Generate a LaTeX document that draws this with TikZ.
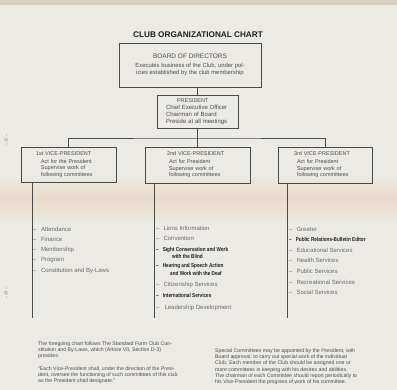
\documentclass[tikz,border=0pt]{standalone}
\usepackage{fontspec}
\setmainfont{Liberation Sans}
\newfontfamily\narrowfont{Liberation Sans}[FakeStretch=0.82]
\definecolor{paper}{HTML}{EBEAE5}
\definecolor{band}{HTML}{E8DBC9}
\definecolor{edge}{HTML}{D8D0C2}
\definecolor{linegray}{HTML}{4A4A4A}
\definecolor{boxtext}{HTML}{4C4C4C}
\definecolor{itemgray}{HTML}{6A6A6A}
\definecolor{itemdark}{HTML}{1E1E1E}
\tikzset{
  chartbox/.style={draw=linegray, line width=0.6pt, align=left, inner ysep=0pt,
    text=boxtext, font=\fontsize{5.5}{6.6}\selectfont},
  item/.style={anchor=west, inner sep=0pt, align=left, text=itemgray,
    font=\fontsize{6}{7.2}\selectfont},
  keyitem/.style={item, text=itemdark, font=\narrowfont\bfseries\fontsize{5.7}{7.2}\selectfont},
  note/.style={anchor=north west, inner sep=0pt, align=left, text=boxtext,
    font=\fontsize{5.2}{6.2}\selectfont},
  link/.style={draw=linegray, line width=0.6pt},
  pageno/.style={inner sep=0pt, text=itemgray, font=\fontsize{4}{5}\selectfont}
}
\begin{document}
\begin{tikzpicture}[x=1pt,y=-1pt]
  % paper
  \fill[paper] (0,0) rectangle (397,390);
  \shade[top color=paper, bottom color=band] (0,176) rectangle (397,198);
  \shade[top color=band, bottom color=paper] (0,198) rectangle (397,224);
  \fill[edge] (0,0) rectangle (397,5);
  \useasboundingbox (0,0) rectangle (397,390);

  \node[text=itemdark, font=\fontsize{8.2}{9}\selectfont\bfseries] (title) at (198,35) {CLUB ORGANIZATIONAL CHART};

  \node[chartbox, align=center, minimum width=142pt, minimum height=44pt] (board) at (190,65)
    {{\fontsize{6.5}{8}\selectfont BOARD OF DIRECTORS}\\[2.5pt]
     {\fontsize{5.9}{6.3}\selectfont Executes business of the Club, under pol-}\\
     {\fontsize{5.9}{6.3}\selectfont icies established by the club membership}};
  \node[chartbox, minimum width=81pt, minimum height=33pt, inner xsep=9pt, text width=63pt] (pres) at (197.5,111.5)
    {\hspace*{11pt}PRESIDENT\\[0.8pt]
     {\fontsize{6}{6.5}\selectfont Chief Executive Officer}\\
     {\fontsize{6}{6.5}\selectfont Chairman of Board}\\
     {\fontsize{6}{6.5}\selectfont Preside at all meetings}};

  \node[chartbox, minimum width=95pt, minimum height=35pt, inner xsep=15pt, text width=65pt] (vp1) at (68.5,164.5)
    {1st VICE-PRESIDENT\\[1.2pt]
     \hspace*{5pt}Act for the President\\
     \hspace*{5pt}Supervise work of\\
     \hspace*{5pt}following committees};
  \node[chartbox, minimum width=105pt, minimum height=36pt, inner xsep=22pt, text width=61pt] (vp2) at (197.5,165)
    {2nd VICE-PRESIDENT\\[1.2pt]
     \hspace*{2pt}Act for President\\
     \hspace*{2pt}Supervise work of\\
     \hspace*{2pt}following committees};
  \node[chartbox, minimum width=94pt, minimum height=36pt, inner xsep=16pt, text width=62pt] (vp3) at (325,165)
    {3rd VICE-PRESIDENT\\[1.2pt]
     \hspace*{3pt}Act for President\\
     \hspace*{3pt}Supervise work of\\
     \hspace*{3pt}following committees};

  \coordinate (bus) at (197.5,138);
  \coordinate (end1) at (32,318);
  \coordinate (end2) at (154,318);
  \coordinate (end3) at (287,318);

  \draw[link] (pres.north |- board.south) -- (pres.north);
  \draw[link] (pres.south) -- (bus);
  \draw[link] (vp1.north) |- (bus) -| (vp3.north);
  \draw[link] (bus) -- (vp2.north);
  \draw[link] (vp1.south -| end1) -- (end1);
  \draw[link] (vp2.south -| end2) -- (end2);
  \draw[link] (vp3.south -| end3) -- (end3);

  % 1st VP committees
  \node[item] (attend) at (33,229) {–\hspace{4.5pt}Attendance};
  \node[item] (finance) at (33,239.5) {–\hspace{4.5pt}Finance};
  \node[item] (member) at (33,250) {–\hspace{4.5pt}Membership};
  \node[item] (program) at (33,260.5) {–\hspace{4.5pt}Program};
  \node[item] (constit) at (33,271) {–\hspace{4.5pt}Constitution and By-Laws};

  % 2nd VP committees
  \node[item] (lionsinfo) at (156,228) {–\hspace{4pt}Lions Information};
  \node[item] (convention) at (156,238.5) {–\hspace{4pt}Convention};
  \node[keyitem] (sight) at (156,253)
    {–\hspace{4pt}Sight Conservation and Work\\\hspace*{16pt}with the Blind};
  \node[keyitem] (hearing) at (156,269.5)
    {–\hspace{4pt}Hearing and Speech Action\\\hspace*{14pt}and Work with the Deaf};
  \node[item] (citizen) at (156,285) {–\hspace{4pt}Citizenship Services};
  \node[keyitem] (intl) at (156,295.5) {–\hspace{4pt}International Services};
  \node[item] (leader) at (156,308) {–\hspace{5pt}Leadership Development};

  % 3rd VP committees
  \node[item] (greeter) at (289,229) {–\hspace{4pt}Greeter};
  \node[keyitem] (pubrel) at (289,239.5) {–\hspace{4pt}Public Relations-Bulletin Editor};
  \node[item] (educ) at (289,250) {–\hspace{4pt}Educational Services};
  \node[item] (health) at (289,260.5) {–\hspace{4pt}Health Services};
  \node[item] (public) at (289,271) {–\hspace{4pt}Public Services};
  \node[item] (recr) at (289,282) {–\hspace{4pt}Recreational Services};
  \node[item] (social) at (289,292.5) {–\hspace{4pt}Social Services};

  % notes
  \node[note] (foregoing) at (38,341.5)
    {The foregoing chart follows The Standard Form Club Con-\\
     stitution and By-Laws, which (Article VII, Section D-3)\\
     provides:};
  \node[note] (quote) at (38,366.5)
    {“Each Vice-President shall, under the direction of the Presi-\\
     dent, oversee the functioning of such committees of this club\\
     as the President shall designate.”};
  \node[note] (special) at (215,348.5)
    {Special Committees may be appointed by the President, with\\
     Board approval, to carry out special work of the individual\\
     Club. Each member of the Club should be assigned one or\\
     more committees in keeping with his desires and abilities.\\
     The chairman of each Committee should report periodically to\\
     his Vice-President the progress of work of his committee.};

  \node[pageno, rotate=90] (p12) at (6,140) {– 12 –};
  \node[pageno, rotate=90] (p13) at (6,293) {– 13 –};
\end{tikzpicture}
\end{document}
